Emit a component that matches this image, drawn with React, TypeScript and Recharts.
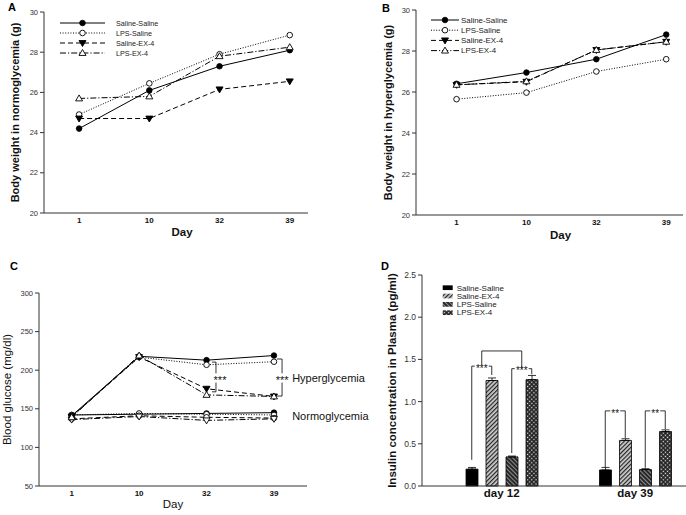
import React from "react";
import {
  LineChart,
  Line,
  BarChart,
  Bar,
  ErrorBar,
  XAxis,
  YAxis,
  Legend,
  ReferenceLine,
  ReferenceDot,
} from "recharts";

const days = ["1", "10", "32", "39"];
const groups = ["Saline-Saline", "LPS-Saline", "Saline-EX-4", "LPS-EX-4"];

// A: body weight of normoglycemic mice (g)
const normWeightSS = [24.2, 26.1, 27.3, 28.1];
const normWeightLS = [24.9, 26.45, 27.9, 28.85];
const normWeightSE = [24.7, 24.7, 26.15, 26.55];
const normWeightLE = [25.7, 25.8, 27.8, 28.25];

// B: body weight of hyperglycemic mice (g)
const hypWeightSS = [26.4, 26.95, 27.6, 28.8];
const hypWeightLS = [25.65, 25.97, 27.0, 27.6];
const hypWeightSE = [26.35, 26.5, 28.05, 28.45];
const hypWeightLE = [26.35, 26.52, 28.05, 28.45];

// C: blood glucose (mg/dl)
const hypGlucoseSS = [141, 218, 213, 219];
const hypGlucoseLS = [140, 217, 207, 211];
const hypGlucoseSE = [140, 217, 176, 166];
const hypGlucoseLE = [139, 219, 168, 166];
const normGlucoseSS = [142, 143, 144, 145];
const normGlucoseLS = [142, 144, 143, 142];
const normGlucoseSE = [137, 141, 139, 138];
const normGlucoseLE = [136, 140, 135, 137];

// D: plasma insulin (pg/ml)
const insulinDays = ["day 12", "day 39"];
const insulinGroups = ["Saline-Saline", "Saline-EX-4", "LPS-Saline", "LPS-EX-4"];
const insulinSS = [0.2, 0.19];
const insulinSE = [1.25, 0.54];
const insulinLS = [0.345, 0.195];
const insulinLE = [1.26, 0.645];
const insulinErrSS = [0.02, 0.03];
const insulinErrSE = [0.03, 0.02];
const insulinErrLS = [0.01, 0.01];
const insulinErrLE = [0.05, 0.02];

type MarkerKind = "fc" | "oc" | "ft" | "ot" | "od";

const lineStyles: { dash?: string; marker: MarkerKind }[] = [
  { dash: undefined, marker: "fc" },
  { dash: "1 1.6", marker: "oc" },
  { dash: "5 3", marker: "ft" },
  { dash: "6 2 1.2 2", marker: "ot" },
];
const normMarkers: MarkerKind[] = ["fc", "oc", "oc", "od"];

const barFills = ["#000", "url(#hatchUp)", "url(#hatchDown)", "url(#dots)"];

// significance brackets, in data units
const cBrackets = [
  { x: 2.14, tick: 2.08, top: 210.5, bottom: 172, gapFrom: 196, gapTo: 184 },
  { x: 3.12, tick: 3.045, top: 214.5, bottom: 166.5, gapFrom: 196, gapTo: 184 },
];
const cNotes = [
  { x: 2.2, y: 190, text: "***", anchor: "middle", stars: true },
  { x: 3.12, y: 190, text: "***", anchor: "middle", stars: true },
  { x: 3.27, y: 190, text: "Hyperglycemia", anchor: "start", stars: false },
  { x: 3.27, y: 140.5, text: "Normoglycemia", anchor: "start", stars: false },
];
const dBrackets = [
  { day: 0, a: 0, b: 1, top: 1.42, fromA: 0.31, fromB: 1.315, stars: "***" },
  { day: 0, a: 2, b: 3, top: 1.39, fromA: 0.39, fromB: 1.325, stars: "***" },
  { day: 0, a: 0.5, b: 2.5, top: 1.6, fromA: 1.435, fromB: 1.395, stars: "" },
  { day: 1, a: 0, b: 1, top: 0.89, fromA: 0.225, fromB: 0.57, stars: "**" },
  { day: 1, a: 2, b: 3, top: 0.89, fromA: 0.215, fromB: 0.675, stars: "**" },
];

const AXIS = "#333";
const TICK = { fontSize: 7.5, fill: "#333" };
const XTICK = { fontSize: 8, fill: "#111", fontWeight: "bold" as const };
const FONT = '"Liberation Sans", Arial, Helvetica, sans-serif';

function Marker({ cx, cy, kind, r = 2.8 }: { cx?: number; cy?: number; kind: MarkerKind; r?: number }) {
  if (cx == null || cy == null) return null;
  const s = r * 1.25;
  if (kind === "fc") return <circle cx={cx} cy={cy} r={r} fill="#000" stroke="#000" strokeWidth={0.8} />;
  if (kind === "oc") return <circle cx={cx} cy={cy} r={r} fill="#fff" stroke="#000" strokeWidth={0.9} />;
  if (kind === "ot")
    return (
      <polygon
        points={`${cx},${cy - s} ${cx - s},${cy + s * 0.7} ${cx + s},${cy + s * 0.7}`}
        fill="#fff"
        stroke="#000"
        strokeWidth={0.9}
      />
    );
  return (
    <polygon
      points={`${cx - s},${cy - s * 0.7} ${cx + s},${cy - s * 0.7} ${cx},${cy + s}`}
      fill={kind === "ft" ? "#000" : "#fff"}
      stroke="#000"
      strokeWidth={0.9}
    />
  );
}

const dotFor = (kind: MarkerKind) => (p: any) => (
  <Marker key={`${kind}-${p.index}`} cx={p.cx} cy={p.cy} kind={kind} />
);

function toRows(series: number[][], prefix: string) {
  return days.map((d, i) => {
    const row: Record<string, number | string> = { x: i, day: d };
    series.forEach((s, k) => (row[`${prefix}${k}`] = s[i]));
    return row;
  });
}

const normWeightRows = toRows([normWeightSS, normWeightLS, normWeightSE, normWeightLE], "s");
const hypWeightRows = toRows([hypWeightSS, hypWeightLS, hypWeightSE, hypWeightLE], "s");
const glucoseRows = days.map((d, i) => ({
  ...toRows([hypGlucoseSS, hypGlucoseLS, hypGlucoseSE, hypGlucoseLE], "h")[i],
  ...toRows([normGlucoseSS, normGlucoseLS, normGlucoseSE, normGlucoseLE], "n")[i],
}));
const insulinRows = insulinDays.map((d, i) => ({
  day: d,
  pos: i,
  ss: insulinSS[i],
  se: insulinSE[i],
  ls: insulinLS[i],
  le: insulinLE[i],
  ssErr: [0, insulinErrSS[i]],
  seErr: [0, insulinErrSE[i]],
  lsErr: [0, insulinErrLS[i]],
  leErr: [0, insulinErrLE[i]],
}));

// D geometry: a hidden numeric axis lines up with the category bands
const D_PLOT_W = 281;
const D_PAD_L = 13;
const D_PAD_R = 1;
const dBand = (D_PLOT_W - D_PAD_L - D_PAD_R) / insulinDays.length;
const dMin = -(D_PAD_L + dBand / 2) / dBand;
const dMax = dMin + D_PLOT_W / dBand;
const barStep = 20 / dBand;
const barX = (day: number, j: number) => day + (j - 1.5) * barStep;

type LegendGeom = { x1: number; x2: number; labelX: number; y0: number; step: number; fontSize: number };

function LineLegend({ x1, x2, labelX, y0, step, fontSize }: LegendGeom) {
  return (
    <svg width={130} height={50} style={{ display: "block", overflow: "visible" }}>
      {groups.map((g, i) => {
        const y = y0 + i * step;
        return (
          <g key={g}>
            <line x1={x1} x2={x2} y1={y} y2={y} stroke="#000" strokeWidth={1} strokeDasharray={lineStyles[i].dash} />
            <Marker cx={(x1 + x2) / 2} cy={y} kind={lineStyles[i].marker} />
            <text x={labelX} y={y} dy="0.35em" fontSize={fontSize} fill="#222">
              {g}
            </text>
          </g>
        );
      })}
    </svg>
  );
}

function BarLegend() {
  return (
    <svg width={110} height={40} style={{ display: "block", overflow: "visible" }}>
      {insulinGroups.map((g, i) => {
        const y = 4.7 + i * 8.33;
        return (
          <g key={g}>
            <rect x={4.7} y={y - 2.35} width={10} height={4.7} fill={barFills[i]} />
            <text x={18.7} y={y} dy="0.35em" fontSize={8} fill="#222">
              {g}
            </text>
          </g>
        );
      })}
    </svg>
  );
}

const starText = (text: string, size: number, anchor: string, stars: boolean) => (p: any) => (
  <text x={p.cx} y={p.cy} dy={stars ? "0.57em" : "0.35em"} textAnchor={anchor as any} fontSize={size} fill="#111">
    {text}
  </text>
);

function WeightChart(props: {
  rows: Record<string, number | string>[];
  margin: { top: number; right: number; bottom: number; left: number };
  yWidth: number;
  xDomain: [number, number];
  yLabel: string;
  yLabelOffset: number;
  dayDx: number;
  dayOffset: number;
  legendPos: { left: number; top: number };
  legend: LegendGeom;
}) {
  const { rows, margin, yWidth, xDomain, yLabel, yLabelOffset, dayDx, dayOffset, legendPos, legend } = props;
  return (
    <LineChart width={343} height={255} data={rows} margin={margin}>
      <XAxis
        dataKey="x"
        type="number"
        domain={xDomain}
        allowDataOverflow
        ticks={[0, 1, 2, 3]}
        tickFormatter={(v: number) => days[v] ?? ""}
        tickLine={false}
        tickSize={2}
        tickMargin={2}
        height={30}
        axisLine={{ stroke: AXIS }}
        tick={XTICK}
        label={{
          value: "Day",
          position: "insideBottom",
          offset: dayOffset,
          dx: dayDx,
          fontSize: 11.5,
          fontWeight: "bold",
          fill: "#111",
        }}
      />
      <YAxis
        type="number"
        domain={[20, 30]}
        ticks={[20, 22, 24, 26, 28, 30]}
        width={yWidth}
        tickSize={4}
        tickMargin={2}
        tick={TICK}
        axisLine={{ stroke: AXIS }}
        tickLine={{ stroke: AXIS }}
        label={{
          value: yLabel,
          angle: -90,
          position: "insideLeft",
          offset: yLabelOffset,
          fontSize: 11,
          fontWeight: "bold",
          fill: "#111",
          style: { textAnchor: "middle" },
        }}
      />
      <Legend
        layout="horizontal"
        verticalAlign="middle"
        align="center"
        wrapperStyle={{ left: legendPos.left, top: legendPos.top, width: 130, height: 50 }}
        content={() => <LineLegend {...legend} />}
      />
      {groups.map((g, k) => (
        <Line
          key={g}
          dataKey={`s${k}`}
          name={g}
          type="linear"
          stroke="#000"
          strokeWidth={1}
          strokeDasharray={lineStyles[k].dash}
          dot={dotFor(lineStyles[k].marker)}
          activeDot={false}
          isAnimationActive={false}
        />
      ))}
    </LineChart>
  );
}

function GlucoseChart() {
  const seg = (key: string, x1: number, y1: number, x2: number, y2: number) => (
    <ReferenceLine key={key} segment={[{ x: x1, y: y1 }, { x: x2, y: y2 }]} stroke="#000" strokeWidth={0.8} />
  );
  return (
    <LineChart width={385} height={260} data={glucoseRows} margin={{ top: 38, right: 78, bottom: 4, left: 0 }}>
      <XAxis
        dataKey="x"
        type="number"
        domain={[-0.485, 3.49]}
        allowDataOverflow
        ticks={[0, 1, 2, 3]}
        tickFormatter={(v: number) => days[v] ?? ""}
        tickLine={false}
        tickSize={2}
        tickMargin={2}
        height={25}
        axisLine={{ stroke: AXIS }}
        tick={XTICK}
        label={{ value: "Day", position: "insideBottom", offset: 3, fontSize: 11.5, fill: "#111" }}
      />
      <YAxis
        type="number"
        domain={[50, 300]}
        ticks={[50, 100, 150, 200, 250, 300]}
        width={39}
        tickSize={4}
        tickMargin={2}
        tick={TICK}
        axisLine={{ stroke: AXIS }}
        tickLine={{ stroke: AXIS }}
        label={{
          value: "Blood glucose (mg/dl)",
          angle: -90,
          position: "insideLeft",
          offset: 7,
          fontSize: 11.5,
          fill: "#111",
          style: { textAnchor: "middle" },
        }}
      />
      {groups.map((g, k) => (
        <Line
          key={`n-${g}`}
          dataKey={`n${k}`}
          name={g}
          stroke="#000"
          strokeWidth={1}
          strokeDasharray={lineStyles[k].dash}
          dot={dotFor(normMarkers[k])}
          activeDot={false}
          isAnimationActive={false}
        />
      ))}
      {groups.map((g, k) => (
        <Line
          key={`h-${g}`}
          dataKey={`h${k}`}
          name={g}
          stroke="#000"
          strokeWidth={1}
          strokeDasharray={lineStyles[k].dash}
          dot={dotFor(lineStyles[k].marker)}
          activeDot={false}
          isAnimationActive={false}
        />
      ))}
      {cBrackets.map((b, i) => [
        seg(`ct${i}`, b.tick, b.top, b.x, b.top),
        seg(`cv${i}`, b.x, b.top, b.x, b.gapFrom),
        seg(`cw${i}`, b.x, b.gapTo, b.x, b.bottom),
        seg(`cb${i}`, b.tick, b.bottom, b.x, b.bottom),
      ])}
      {cNotes.map((n, i) => (
        <ReferenceDot key={`cn${i}`} x={n.x} y={n.y} r={0} shape={starText(n.text, 11, n.anchor, n.stars)} />
      ))}
    </LineChart>
  );
}

function InsulinChart() {
  const keys = ["ss", "se", "ls", "le"];
  const seg = (key: string, x1: number, y1: number, x2: number, y2: number) => (
    <ReferenceLine
      key={key}
      xAxisId="n"
      segment={[{ x: x1, y: y1 }, { x: x2, y: y2 }]}
      stroke="#000"
      strokeWidth={0.8}
    />
  );
  return (
    <BarChart
      width={360}
      height={260}
      data={insulinRows}
      margin={{ top: 20, right: 0, bottom: 9, left: 0 }}
      barSize={12}
      barGap={8}
    >
      <XAxis
        dataKey="day"
        padding={{ left: D_PAD_L, right: D_PAD_R }}
        tickLine={false}
        tickSize={0}
        tickMargin={3}
        height={20}
        axisLine={{ stroke: AXIS }}
        tick={{ fontSize: 11.5, fontWeight: "bold", fill: "#111" }}
      />
      <XAxis xAxisId="n" dataKey="pos" type="number" domain={[dMin, dMax]} allowDataOverflow hide />
      <YAxis
        type="number"
        domain={[0, 2.5]}
        ticks={[0, 0.5, 1, 1.5, 2, 2.5]}
        tickFormatter={(v: number) => v.toFixed(1)}
        width={79}
        tickSize={4}
        tickMargin={2}
        tick={{ fontSize: 8.5, fill: "#333" }}
        axisLine={{ stroke: AXIS }}
        tickLine={{ stroke: AXIS }}
        label={{
          value: "Insulin concentration in Plasma (pg/ml)",
          angle: -90,
          position: "insideLeft",
          offset: 49,
          fontSize: 11.5,
          fontWeight: "bold",
          fill: "#111",
          style: { textAnchor: "middle" },
        }}
      />
      <Legend
        layout="horizontal"
        verticalAlign="middle"
        align="center"
        wrapperStyle={{ left: 95, top: 28, width: 110, height: 40 }}
        content={() => <BarLegend />}
      />
      {keys.map((k, j) => (
        <Bar key={k} dataKey={k} name={insulinGroups[j]} fill={barFills[j]} stroke="#000" strokeWidth={0.8} isAnimationActive={false}>
          <ErrorBar dataKey={`${k}Err`} width={4} stroke="#000" strokeWidth={0.8} direction="y" />
        </Bar>
      ))}
      {dBrackets.map((b, i) => {
        const xa = barX(b.day, b.a);
        const xb = barX(b.day, b.b);
        const mid = (xa + xb) / 2;
        const half = b.stars ? (b.stars.length * 2 + 1) / dBand : 0;
        return [
          seg(`dl${i}`, xa, b.fromA, xa, b.top),
          b.stars ? seg(`dt${i}`, xa, b.top, mid - half, b.top) : seg(`dt${i}`, xa, b.top, xb, b.top),
          b.stars ? seg(`du${i}`, mid + half, b.top, xb, b.top) : null,
          seg(`dr${i}`, xb, b.top, xb, b.fromB),
          b.stars ? (
            <ReferenceDot key={`ds${i}`} xAxisId="n" x={mid} y={b.top} r={0} shape={starText(b.stars, 10, "middle", true)} />
          ) : null,
        ];
      })}
    </BarChart>
  );
}

export default function App() {
  return (
    <div
      style={{
        position: "absolute",
        left: 0,
        top: 0,
        width: 686,
        height: 515,
        overflow: "hidden",
        background: "#fff",
        fontFamily: FONT,
      }}
    >
      <svg width={0} height={0} style={{ position: "absolute" }}>
        <defs>
          <pattern id="hatchUp" width={3} height={3} patternUnits="userSpaceOnUse" patternTransform="rotate(45)">
            <rect width={3} height={3} fill="#cfcfcf" />
            <line x1={0.6} y1={0} x2={0.6} y2={3} stroke="#222" strokeWidth={1.2} />
          </pattern>
          <pattern id="hatchDown" width={3} height={3} patternUnits="userSpaceOnUse" patternTransform="rotate(-45)">
            <rect width={3} height={3} fill="#222" />
            <line x1={0.6} y1={0} x2={0.6} y2={3} stroke="#999" strokeWidth={1} />
          </pattern>
          <pattern id="dots" width={3} height={3} patternUnits="userSpaceOnUse" patternTransform="rotate(45)">
            <rect width={3} height={3} fill="#222" />
            <rect x={0.8} y={0.8} width={1.3} height={1.3} fill="#eee" />
          </pattern>
        </defs>
      </svg>

      <div style={{ position: "absolute", left: 0, top: 0 }}>
        <WeightChart
          rows={normWeightRows}
          margin={{ top: 12, right: 35, bottom: 12, left: 0 }}
          yWidth={44}
          xDomain={[-0.5, 3.26]}
          yLabel="Body weight in normoglycemia (g)"
          yLabelOffset={15}
          dayDx={6}
          dayOffset={7}
          legendPos={{ left: 55, top: 15 }}
          legend={{ x1: 5, x2: 50, labelX: 61, y0: 8, step: 10, fontSize: 7.2 }}
        />
      </div>
      <div style={{ position: "absolute", left: 343, top: 0 }}>
        <WeightChart
          rows={hypWeightRows}
          margin={{ top: 10, right: 3, bottom: 10, left: 0 }}
          yWidth={73}
          xDomain={[-0.58, 3.24]}
          yLabel="Body weight in hyperglycemia (g)"
          yLabelOffset={45}
          dayDx={11}
          dayOffset={6.5}
          legendPos={{ left: 85, top: 12 }}
          legend={{ x1: 3, x2: 31, labelX: 33, y0: 8, step: 10.2, fontSize: 7.9 }}
        />
      </div>
      <div style={{ position: "absolute", left: 0, top: 255 }}>
        <GlucoseChart />
      </div>
      <div style={{ position: "absolute", left: 343, top: 255 }}>
        <InsulinChart />
      </div>

      <svg width={686} height={515} style={{ position: "absolute", left: 0, top: 0, pointerEvents: "none" }}>
        <g fontSize={11} fontWeight="bold" fill="#000">
          <text x={8} y={11}>A</text>
          <text x={382} y={12}>B</text>
          <text x={10} y={270}>C</text>
          <text x={381} y={270}>D</text>
        </g>
      </svg>
    </div>
  );
}
